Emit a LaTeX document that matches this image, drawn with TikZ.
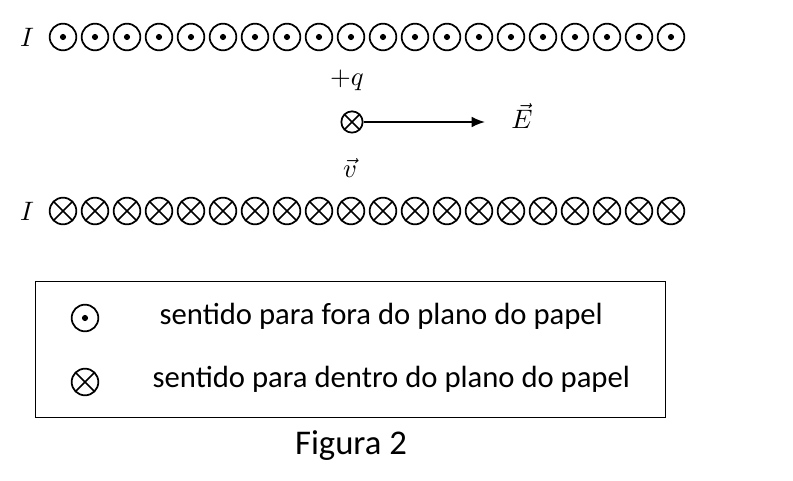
\documentclass[tikz,border=0pt]{standalone}
\usepackage{fontspec}
\setmainfont{Carlito}
\usetikzlibrary{arrows.meta}
\newcommand\mysc[1]{\scalebox{2.0}{\fontsize{10}{12}\selectfont #1}}
\begin{document}
\begin{tikzpicture}[x=0.75pt,y=-0.75pt,
  outc/.style={circle,draw,line width=1.3pt,minimum size=20pt,inner sep=0pt,
    path picture={\fill (path picture bounding box.center) circle (2.3pt);}},
  inc/.style={circle,draw,line width=1.3pt,minimum size=20pt,inner sep=0pt,
    path picture={\draw[line width=1.3pt] (path picture bounding box.south west)--(path picture bounding box.north east)
      (path picture bounding box.north west)--(path picture bounding box.south east);}},
  lbl/.style={font=\fontsize{23}{26}\selectfont,anchor=west},
  mth/.style={inner sep=1pt}]
\useasboundingbox (0,0) rectangle (793,481);
\node[mth] (I1) at (27,37) {\mysc{$I$}};
\node[mth] (I2) at (27,211) {\mysc{$I$}};
\foreach \i in {0,...,19}{
  \node[outc] (o\i) at (63+32*\i,37) {};
  \node[inc] (x\i) at (63+32*\i,211) {};
}
\node[inc,minimum size=16pt] (q) at (352,122) {};
\coordinate (Eend) at (485,122);
\draw[line width=1.2pt,-{Latex[length=10pt,width=8pt]}] (q) -- (Eend);
\node[mth] (E) at (522,116) {\mysc{$\vec{E}$}};
\node[mth] (qlab) at (347,80) {\mysc{$+q$}};
\node[mth] (v) at (350,168) {\mysc{$\vec{v}$}};
\node[draw,line width=0.8pt,minimum width=630*0.75pt,minimum height=136*0.75pt,anchor=north west,inner sep=0pt] (box) at (35,281) {};
\node[outc] (lo) at (85,318) {};
\node[inc] (li) at (85,382) {};
\node[lbl] (t1) at (155,316) {sentido para fora do plano do papel};
\node[lbl] (t2) at (148,379) {sentido para dentro do plano do papel};
\node[font=\fontsize{26}{30}\selectfont] (fig) at (351,446) {Figura 2};
\end{tikzpicture}
\end{document}
